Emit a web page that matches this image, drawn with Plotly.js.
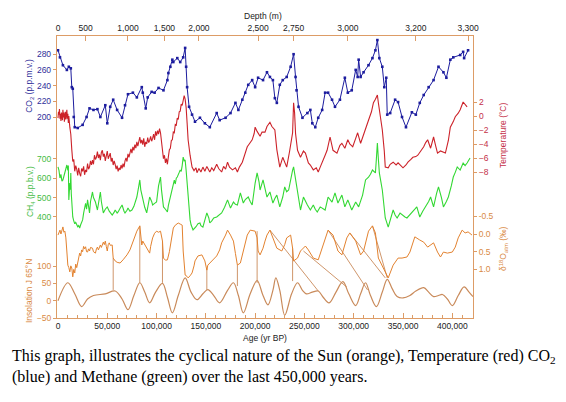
<!DOCTYPE html>
<html>
<head>
<meta charset="utf-8">
<script src="https://cdn.plot.ly/plotly-3.0.1.min.js"></script>
<style>html,body{margin:0;padding:0;background:#fff;}#chart{width:566px;height:402px;}</style>
</head>
<body>
<div id="chart"></div>
<script>
// ---------- data (age in thousands of years BP) ----------
const ageTickVals = [0, 50, 100, 150, 200, 250, 300, 350, 400];
const ageTickText = ["0", "50,000", "100,000", "150,000", "200,000", "250,000", "300,000", "350,000", "400,000"];
const depthTickAges = [0, 28, 71, 108, 143, 203, 239, 294, 363, 416];
const depthTickText = ["0", "500", "1,000", "1,500", "2,000", "2,500", "2,750", "3,000", "3,200", "3,300"];

const co2Age = [0,2,5,9,11,13,14,15,16,17,20,25,29,32,36,40,43,48,50,53,56,60,65,68,71,76,80,85,86,89,91,95,98,102,107,111,112,114,116,117,121,124,127,129,130,131,133,136,139,144,149,154,161,164,170,175,180,183,187,190,193,197,200,203,208,212,215,218,220,222,225,228,232,236,239,241,242,244,248,253,256,258,261,264,268,271,274,278,281,286,291,294,298,302,304,305,307,310,315,319,322,324,326,329,331,333,334,337,342,345,349,353,359,363,367,371,376,381,386,391,394,398,401,408,411,412,416];
const co2Val = [285,276,266,260,264,262,238,236,200,187,186,190,200,211,209,210,200,215,192,213,222,209,199,215,229,231,225,238,231,211,225,232,231,237,234,247,256,264,273,270,275,270,276,288,264,238,213,203,194,199,192,187,205,196,199,205,218,209,222,231,241,247,238,250,247,257,251,247,224,218,241,247,251,264,280,251,234,213,199,205,209,192,187,199,209,231,231,222,213,222,250,231,234,260,251,273,251,257,266,275,285,298,275,264,238,250,203,205,222,219,200,187,206,203,218,228,238,247,264,257,250,273,276,279,283,275,285];

const tempAge = [0,0.5,1,1.5,2,2.5,3,3.5,4,4.5,5,5.5,6,6.5,7,7.5,8,8.5,9,9.5,10,10.5,11,12,
  13,14,15,16,17,18,19,20,21,22,23,24,25,26,27,28,29,30,31,32,33,34,35,36,37,38,39,40,41,42,43,44,45,46,47,48,49,50,51,52,53,54,55,56,57,58,59,60,61,62,63,64,65,66,67,68,69,70,71,72,73,74,75,76,77,78,79,80,81,82,83,84,85,86,87,88,89,90,91,92,93,94,95,96,97,98,99,100,101,102,103,104,
  105,106,107,108,109,110,111,112,113,114,115,116,117,118,119,120,121,122,123,124,125,126,127,128,129,130,131,132,
  134,136,138,140,141,143,145,147,149,151,154,156,158,161,163,166,168,170,172,174,177,180,182,184,187,189,192,194,197,199,200,202,205,207,210,212,215,217,220,222,225,228,230,232,235,238,239,240,241,243,246,249,251,254,256,259,262,264,266,268,271,273,276,279,283,286,288,291,294,296,299,302,304,307,310,312,315,318,320,322,324,325,327,329,331,332,335,337,340,343,345,348,350,353,355,358,360,363,365,368,371,373,375,378,381,383,385,388,390,393,396,398,401,403,406,408,411,413,415];
const tempVal = [-0.3,0.6,0.2,1.0,-0.4,0.3,-0.7,0.5,0.1,-0.6,0.9,-0.2,0.5,-0.8,0.2,0.6,-0.5,0.3,0.9,-0.4,0.3,-1.0,0.0,-1.6,
  -2.6,-4.8,-6.5,-6.2,-7.9,-7.1,-7.6,-8.5,-7.4,-8.2,-8.6,-7.5,-7.9,-7.2,-8.4,-7.7,-8.0,-6.8,-7.6,-7.3,-6.4,-7.0,-6.3,-6.9,-5.6,-6.2,-5.9,-5.1,-6.0,-5.5,-6.3,-5.2,-4.9,-5.8,-5.4,-6.4,-5.6,-5.0,-6.1,-5.7,-5.3,-6.5,-6.0,-7.0,-6.4,-6.9,-7.6,-7.1,-7.9,-7.4,-7.7,-7.0,-7.5,-6.8,-7.3,-6.4,-6.0,-6.5,-5.4,-5.9,-5.1,-4.7,-5.3,-4.4,-4.9,-4.1,-4.6,-3.7,-4.3,-3.3,-3.0,-3.9,-3.4,-4.1,-3.2,-4.4,-3.7,-4.0,-3.1,-3.8,-3.5,-2.9,-3.6,-3.2,-2.6,-3.4,-2.2,-2.8,-2.1,-2.6,-1.8,-2.4,
  -3.9,-5.2,-6.1,-5.6,-6.7,-6.1,-6.9,-5.8,-4.8,-4.6,-3.5,-3.4,-2.3,-2.4,-1.2,-1.3,-0.3,-0.5,0.6,0.7,1.7,1.5,2.5,2.9,2.4,1.2,-1.0,-3.4,
  -5.6,-7.3,-7.8,-7.4,-8.1,-7.5,-8.0,-7.3,-7.9,-7.2,-8.0,-7.4,-7.8,-6.9,-7.5,-8.0,-7.2,-7.6,-6.6,-7.3,-7.7,-7.4,-8.0,-7.3,-6.6,-5.6,-4.4,-4.0,-3.4,-2.5,-1.6,-2.2,-2.9,-2.3,-2.3,-1.5,-0.9,-1.5,-2.0,-4.8,-7.3,-5.9,-6.5,-7.3,-5.0,-2.4,1.9,0.5,-2.5,-4.9,-5.9,-5.0,-5.3,-6.7,-7.0,-7.7,-7.4,-8.0,-7.3,-6.7,-5.6,-4.9,-3.0,-4.9,-5.3,-4.2,-3.9,-4.6,-3.4,-4.0,-4.4,-3.2,-2.4,-3.9,-2.6,-1.6,-0.6,0.6,1.9,2.4,3.0,1.9,0.0,-2.0,-5.0,-7.3,-7.4,-6.9,-6.6,-7.0,-6.7,-7.1,-7.4,-7.0,-6.6,-6.2,-5.9,-5.8,-5.6,-5.0,-4.4,-3.8,-3.4,-4.6,-3.0,-4.2,-5.3,-5.0,-5.1,-5.3,-3.5,-1.6,-0.8,-0.1,0.4,0.9,2.0,1.6,1.3];

const ch4Age = [0,1,2,3,4,5,6,7,8,9,10,10.5,11,11.5,12,12.5,13,13.5,14,15,16,17,18,19,20,21,22,23,24,25,26,27,28,29,30,31,32,33,35,36,38,40,42,43,44,46,48,50,52,55,57,58,60,61,63,65,67,68,70,71,73,75,77,78,80,82,83,84,86,88,90,92,93,95,96,98,100,102,104,105,107,109,111,112,114,115,116,117,118,119,120,121,122,123,124,125,126,127,128,129,130,131,132,133,134,135,137,140,142,144,145,147,149,151,153,154,156,158,161,164,166,169,172,175,178,180,182,185,188,190,193,195,197,200,202,204,205,208,210,212,215,218,220,222,225,228,230,232,234,236,238,239,241,243,246,249,251,253,256,259,261,263,266,269,271,274,278,281,284,288,291,294,298,302,305,309,312,315,317,319,322,323,324,325,326,329,331,332,335,338,340,342,344,347,349,352,354,357,359,362,364,367,370,373,376,378,381,384,386,389,391,394,396,399,401,403,405,408,411,413,415,418];
const ch4Val = [658,640,601,620,585,591,610,627,650,668,640,665,488,560,575,540,627,520,452,400,380,365,372,359,350,356,343,360,372,385,420,452,470,440,488,455,421,480,529,500,477,436,490,529,480,421,440,452,430,410,425,436,420,426,445,462,430,421,435,446,430,436,455,472,503,560,591,540,488,450,421,470,503,480,462,470,477,560,606,540,452,440,426,460,503,530,560,575,590,570,600,606,615,630,642,635,665,709,690,694,640,575,488,430,385,360,333,350,365,369,355,348,385,421,395,369,380,395,400,410,421,450,488,446,477,465,462,524,472,490,503,480,462,575,627,580,539,591,545,503,529,472,495,513,452,503,555,530,539,600,642,658,600,529,436,503,480,462,436,462,440,426,452,440,436,503,477,524,472,513,452,488,436,477,452,513,591,606,620,642,627,700,781,700,627,539,460,395,348,400,436,410,395,420,410,400,395,410,421,440,452,400,430,452,480,503,452,520,555,500,452,480,503,560,606,630,658,642,678,665,678,704];

const d18Age = [0,1,2,3,4,5,6,7,8,9,10,11,12,13,14,15,16,17,18,19,20,21,22,23,24,25,26,27,28,29,30,31,32,33,35,36,38,39,40,41,43,44,46,47,48,49,50,51,52,53,55,56,58,60,63,66,70,73,75,78,80,83,84,85,86,88,90,93,94,96,98,100,102,104,106,107,109,111,113,114,116,117,119,122,124,126,127,128,129,131,132,134,136,138,139,142,146,149,151,152,156,161,164,166,170,172,175,178,180,182,185,188,190,192,195,200,202,203,205,208,210,212,215,218,222,227,230,232,236,238,239,243,246,251,254,259,264,269,274,279,284,288,293,296,302,307,310,315,319,322,325,330,335,340,345,349,354,357,359,362,367,371,375,378,381,385,388,391,395,400,403,406,410,413,416,420];
const d18Val = [0.03,-0.05,-0.11,0.0,-0.15,-0.2,-0.05,-0.08,0.11,0.51,0.88,0.95,1.07,0.9,0.96,1.21,1.0,1.1,0.85,0.95,0.79,0.6,0.54,0.62,0.45,0.5,0.35,0.42,0.36,0.5,0.51,0.42,0.48,0.38,0.4,0.5,0.54,0.42,0.37,0.45,0.31,0.38,0.23,0.3,0.2,0.35,0.48,0.3,0.25,0.32,0.31,0.68,0.76,0.8,0.82,0.73,0.59,0.45,0.31,0.05,-0.08,-0.23,0.1,0.31,0.2,0.3,0.4,0.54,0.35,0.11,-0.02,-0.08,-0.05,-0.08,0.2,0.68,0.74,0.73,0.5,0.34,0.05,-0.17,-0.25,-0.31,-0.28,-0.25,0.48,0.9,1.16,1.2,1.24,1.18,1.1,0.9,0.76,0.62,0.59,0.76,1.02,0.88,0.76,0.62,0.45,0.25,0.03,-0.11,0.03,0.2,0.55,0.88,0.82,0.48,0.25,0.03,-0.11,-0.08,0.11,0.48,0.59,0.4,0.2,0.03,-0.11,0.11,0.4,0.48,0.3,0.11,0.03,0.4,0.76,0.68,0.48,0.34,0.45,0.68,0.73,0.31,-0.11,0.03,0.48,0.59,0.11,-0.03,0.2,0.59,0.48,-0.08,-0.23,-0.03,0.68,0.96,1.24,0.88,0.68,0.68,0.65,0.51,0.31,0.08,0.17,0.23,0.37,0.31,0.25,0.51,0.65,0.51,0.54,0.51,0.37,0.11,-0.11,-0.03,-0.06,0.03];

// straight connecting strokes seen between the d18O and insolation curves (d18O units)
const linkFromAge = [56, 83, 106, 151, 182, 202, 238, 215, 274, 296, 319, 249];
const linkFromVal = [0.68, -0.23, 0.2, 0.96, 0.88, -0.08, 0.4, -0.11, -0.11, -0.03, -0.23, 0.48];
const linkToAge = [56, 83, 106, 151, 182, 202, 238, 264, 314, 332, 334, 293];
const linkToVal = [1.58, 1.38, 1.38, 1.58, 1.47, 1.38, 1.33, 1.61, 1.58, 1.24, 1.24, 1.5];

const insAge = [0,10,17,24,30,36,48,58,65,71,77,83,88,93,99,106,111,116,122,129,135,141,147,152,158,164,172,178,183,188,195,202,208,213,218,221,225,230,237,243,248,252,258,264,269,275,282,289,295,302,307,312,317,323,329,334,339,344,350,357,363,371,376,381,386,390,395,400,406,412,417,421];
const insVal = [0,52,20,-17,5,15,20,28,5,-26,15,52,25,-6,25,50,10,-35,15,66,25,3,20,32,15,-6,30,52,15,-35,20,58,15,-12,30,66,30,-42,20,52,30,20,25,28,10,-6,25,55,20,-14,20,52,15,-17,25,62,35,12,8,15,28,38,25,12,15,18,5,-14,15,40,25,12];

const co2Ticks = [200, 220, 240, 260, 280];
const tempTicks = [-8, -6, -4, -2, 0, 2];
const ch4Ticks = [400, 500, 600, 700];
const d18Ticks = [-0.5, 0, 0.5, 1.0];
const d18TickText = ["-0.5", "0.0", "0.5", "1.0"];
const insTicks = [-50, 0, 50, 100];

// ---------- styling ----------
const axisColor = '#dd9c66';
const cBlue = '#1c1c9e', cRed = '#cc2229', cGreen = '#33d833', cOrange = '#e3822f', cTan = '#c98a5a';
const lBlue = '#2f2f9a', lRed = '#c43048', lGreen = '#44bb44', lOrange = '#d98a45';
const sans = 'Liberation Sans, Arial, Helvetica, sans-serif';

const linkX = [], linkY = [];
for (let i = 0; i < linkFromAge.length; i++) {
  linkX.push(linkFromAge[i], linkToAge[i], null);
  linkY.push(linkFromVal[i], linkToVal[i], null);
}

const traces = [
  {x: insAge, y: insVal, xaxis: 'x2', yaxis: 'y5', mode: 'lines', line: {color: cTan, width: 1.2, shape: 'spline', smoothing: 1}, hoverinfo: 'skip'},
  {x: linkX, y: linkY, yaxis: 'y4', mode: 'lines', line: {color: cTan, width: 0.9}, connectgaps: false, hoverinfo: 'skip'},
  {x: d18Age, y: d18Val, yaxis: 'y4', mode: 'lines', line: {color: cOrange, width: 1}},
  {x: ch4Age, y: ch4Val, yaxis: 'y3', mode: 'lines', line: {color: cGreen, width: 1.1}},
  {x: tempAge, y: tempVal, yaxis: 'y2', mode: 'lines', line: {color: cRed, width: 1.1}},
  {x: co2Age, y: co2Val, yaxis: 'y', mode: 'lines+markers', line: {color: cBlue, width: 1}, marker: {color: cBlue, size: 2.6, symbol: 'square'}}
];

function yax(extra) {
  return Object.assign({showgrid: false, zeroline: false, ticklen: 3, tickcolor: axisColor, tickwidth: 1, linecolor: axisColor, linewidth: 1.2, fixedrange: true}, extra);
}

const ann = (text, x, y, color, angle, size, family, xanchor) => ({
  text: text, x: x, y: y, xref: 'paper', yref: 'paper', showarrow: false,
  textangle: angle || 0, xanchor: xanchor || 'center', yanchor: 'middle',
  font: {family: family || sans, size: size || 8.5, color: color}
});

const layout = {
  width: 566, height: 402,
  margin: {l: 57, r: 93, t: 36, b: 84, pad: 0},
  paper_bgcolor: '#ffffff', plot_bgcolor: '#ffffff',
  showlegend: false,
  font: {family: sans, size: 8.5, color: '#222'},
  xaxis: {range: [-1, 421], tickmode: 'array', tickvals: ageTickVals, ticktext: ageTickText,
    ticks: 'inside', ticklen: 5, tickcolor: axisColor, showline: true, linecolor: axisColor, linewidth: 1.2,
    showgrid: false, zeroline: false, tickfont: {size: 8.5, color: '#222'},
    minor: {tickmode: 'linear', tick0: 0, dtick: 10, ticks: 'inside', ticklen: 3, tickcolor: axisColor, showgrid: false}},
  xaxis2: {overlaying: 'x', side: 'top', anchor: 'y', range: [-1, 421], tickmode: 'array', tickvals: depthTickAges, ticktext: depthTickText,
    ticks: 'inside', ticklen: 5, tickcolor: axisColor, showline: true, linecolor: axisColor, linewidth: 1.2,
    showgrid: false, zeroline: false, tickfont: {size: 8.5, color: '#222'}},
  yaxis: yax({range: [-56.1, 303.2], side: 'left', tickmode: 'array', tickvals: co2Ticks, ticks: 'outside', showline: true, tickfont: {size: 8.5, color: lBlue}}),
  yaxis2: yax({overlaying: 'y', anchor: 'x', side: 'right', range: [-28.86, 11.43], tickmode: 'array', tickvals: tempTicks, ticks: 'outside', showline: true, tickfont: {size: 8.5, color: lRed}}),
  yaxis3: yax({overlaying: 'y', anchor: 'x', side: 'left', range: [-120.7, 1333], tickmode: 'array', tickvals: ch4Ticks, ticks: 'outside', showline: false, tickfont: {size: 8.5, color: lGreen}}),
  yaxis4: yax({overlaying: 'y', anchor: 'x', side: 'right', range: [2.373, -5.594], tickmode: 'array', tickvals: d18Ticks, ticktext: d18TickText, ticks: 'outside', showline: false, tickfont: {size: 8.5, color: lOrange}}),
  yaxis5: yax({overlaying: 'y', anchor: 'x', side: 'left', range: [-50, 766], tickmode: 'array', tickvals: insTicks, ticks: 'outside', showline: false, tickfont: {size: 8.5, color: lOrange}}),
  annotations: [
    ann('Depth (m)', 0.495, 1.071, '#222'),
    ann('Age (yr BP)', 0.5, -0.071, '#222'),
    ann('CO<sub>2</sub> (p.p.m.v.)', -0.065, 0.823, lBlue, -90),
    ann('CH<sub>4</sub> (p.p.b.v.)', -0.065, 0.45, lGreen, -90),
    ann('Insolation J 65°N', -0.067, 0.096, lOrange, -90),
    ann('Temperature (°C)', 1.072, 0.649, lRed, -90),
    ann('δ<sup>18</sup>O<sub>atm</sub> (‰)', 1.072, 0.248, lOrange, -90),
    ann('This graph, illustrates the cyclical nature of the Sun (orange), Temperature (red) CO<sub>2</sub>', -0.113, -0.1348, '#000', 0, 16, 'Liberation Serif, Times New Roman, serif', 'left'),
    ann('(blue) and Methane (green) over the last 450,000 years.', -0.113, -0.2092, '#000', 0, 16, 'Liberation Serif, Times New Roman, serif', 'left')
  ]
};

Plotly.newPlot('chart', traces, layout, {displayModeBar: false, staticPlot: true});
</script>
</body>
</html>
